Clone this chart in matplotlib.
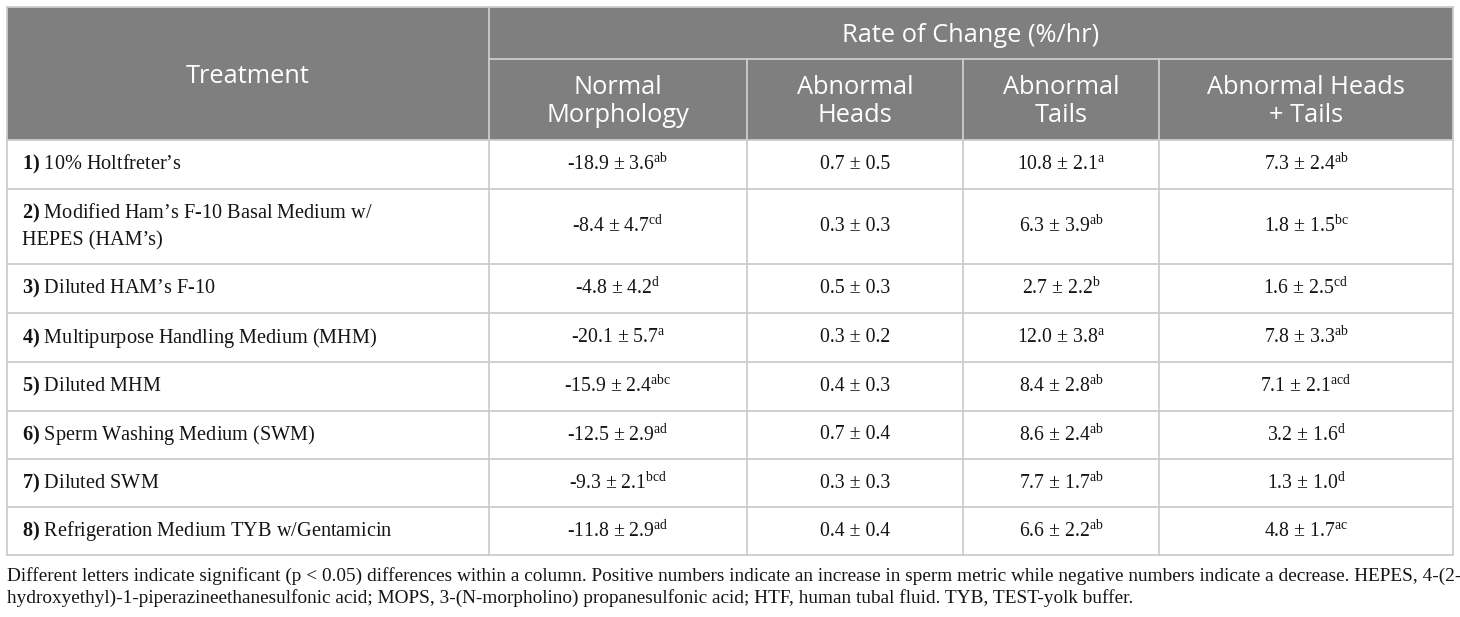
import matplotlib.pyplot as plt
from matplotlib.patches import Rectangle

plt.rcParams['mathtext.fontset'] = 'custom'
plt.rcParams['mathtext.rm'] = 'Liberation Serif'
plt.rcParams['mathtext.it'] = 'Liberation Serif:italic'
plt.rcParams['mathtext.bf'] = 'Liberation Serif:bold'

W, H = 1460, 617

group_header = "Rate of Change (%/hr)"
first_header = "Treatment"
col_headers = ["Normal\nMorphology", "Abnormal\nHeads", "Abnormal\nTails",
               "Abnormal Heads\n+ Tails"]

treatments = [
    "10% Holtfreter\u2019s",
    "Modified Ham\u2019s F-10 Basal Medium w/\nHEPES (HAM\u2019s)",
    "Diluted HAM\u2019s F-10",
    "Multipurpose Handling Medium (MHM)",
    "Diluted MHM",
    "Sperm Washing Medium (SWM)",
    "Diluted SWM",
    "Refrigeration Medium TYB w/Gentamicin",
]

normal_mean = [-18.9, -8.4, -4.8, -20.1, -15.9, -12.5, -9.3, -11.8]
normal_se = [3.6, 4.7, 4.2, 5.7, 2.4, 2.9, 2.1, 2.9]
normal_sig = ["ab", "cd", "d", "a", "abc", "ad", "bcd", "ad"]

heads_mean = [0.7, 0.3, 0.5, 0.3, 0.4, 0.7, 0.3, 0.4]
heads_se = [0.5, 0.3, 0.3, 0.2, 0.3, 0.4, 0.3, 0.4]
heads_sig = ["", "", "", "", "", "", "", ""]

tails_mean = [10.8, 6.3, 2.7, 12.0, 8.4, 8.6, 7.7, 6.6]
tails_se = [2.1, 3.9, 2.2, 3.8, 2.8, 2.4, 1.7, 2.2]
tails_sig = ["a", "ab", "b", "a", "ab", "ab", "ab", "ab"]

both_mean = [7.3, 1.8, 1.6, 7.8, 7.1, 3.2, 1.3, 4.8]
both_se = [2.4, 1.5, 2.5, 3.3, 2.1, 1.6, 1.0, 1.7]
both_sig = ["ab", "bc", "cd", "ab", "acd", "d", "d", "ac"]

footnote = ("Different letters indicate significant (p < 0.05) differences within a column. "
            "Positive numbers indicate an increase in sperm metric while negative numbers "
            "indicate a decrease. HEPES, 4-(2-\nhydroxyethyl)-1-piperazineethanesulfonic acid; "
            "MOPS, 3-(N-morpholino) propanesulfonic acid; HTF, human tubal fluid. "
            "TYB, TEST-yolk buffer.")

columns = [(normal_mean, normal_se, normal_sig),
           (heads_mean, heads_se, heads_sig),
           (tails_mean, tails_se, tails_sig),
           (both_mean, both_se, both_sig)]

# layout in pixels
x_edges = [7, 489, 747, 963, 1159, 1453]
y_top, y_grp, y_head = 7, 59, 140
row_edges = [140, 189, 264, 313, 362, 410.5, 459, 507, 555]
header_bg = '#7f7f7f'
line_c = '#cdcdcd'

fig = plt.figure(figsize=(W / 100, H / 100), dpi=100)
ax = fig.add_axes([0, 0, 1, 1])
ax.set_xlim(0, W)
ax.set_ylim(H, 0)
ax.axis('off')

ax.add_patch(Rectangle((x_edges[0], y_top), x_edges[-1] - x_edges[0], y_head - y_top,
                       facecolor=header_bg, edgecolor='none'))

lw = 1.3
# horizontal lines
ax.plot([x_edges[0], x_edges[-1]], [y_top, y_top], color=line_c, lw=lw)
ax.plot([x_edges[1], x_edges[-1]], [y_grp, y_grp], color=line_c, lw=lw)
for y in row_edges:
    ax.plot([x_edges[0], x_edges[-1]], [y, y], color=line_c, lw=lw)
# vertical lines
ax.plot([x_edges[0], x_edges[0]], [y_top, row_edges[-1]], color=line_c, lw=lw)
ax.plot([x_edges[-1], x_edges[-1]], [y_top, row_edges[-1]], color=line_c, lw=lw)
ax.plot([x_edges[1], x_edges[1]], [y_top, row_edges[-1]], color=line_c, lw=lw)
for x in x_edges[2:-1]:
    ax.plot([x, x], [y_grp, row_edges[-1]], color=line_c, lw=lw)

hdr_font = dict(family='Open Sans', color='white', fontsize=18.3, ha='center', va='center')
ax.text((x_edges[0] + x_edges[1]) / 2, (y_top + y_head) / 2 + 3, first_header, **hdr_font)
ax.text((x_edges[1] + x_edges[-1]) / 2, (y_top + y_grp) / 2 + 2, group_header, **hdr_font)
for i, h in enumerate(col_headers):
    ax.text((x_edges[i + 1] + x_edges[i + 2]) / 2, (y_grp + y_head) / 2 + 2, h,
            linespacing=1.2, **hdr_font)

body = dict(family='Liberation Serif', color='#141414', va='center')
for r, name in enumerate(treatments):
    yc = (row_edges[r] + row_edges[r + 1]) / 2
    ax.text(x_edges[0] + 15, yc, r'$\mathbf{%d)}$ ' % (r + 1) + name,
            ha='left', linespacing=1.45, fontsize=14.6, **body)
    for c, (m, s, g) in enumerate(columns):
        xc = (x_edges[c + 1] + x_edges[c + 2]) / 2
        txt = f"{m[r]:.1f} \u00b1 {s[r]:.1f}"
        if g[r]:
            txt += r'$^{\mathrm{%s}}$' % g[r]
        ax.text(xc, yc, txt, ha='center', fontsize=14.2, **body)

ax.text(x_edges[0], 587, footnote, family='Liberation Serif', color='#141414',
        fontsize=13.85, ha='left', va='center', linespacing=1.28)

fig.savefig('out.png', dpi=100, facecolor='white')
